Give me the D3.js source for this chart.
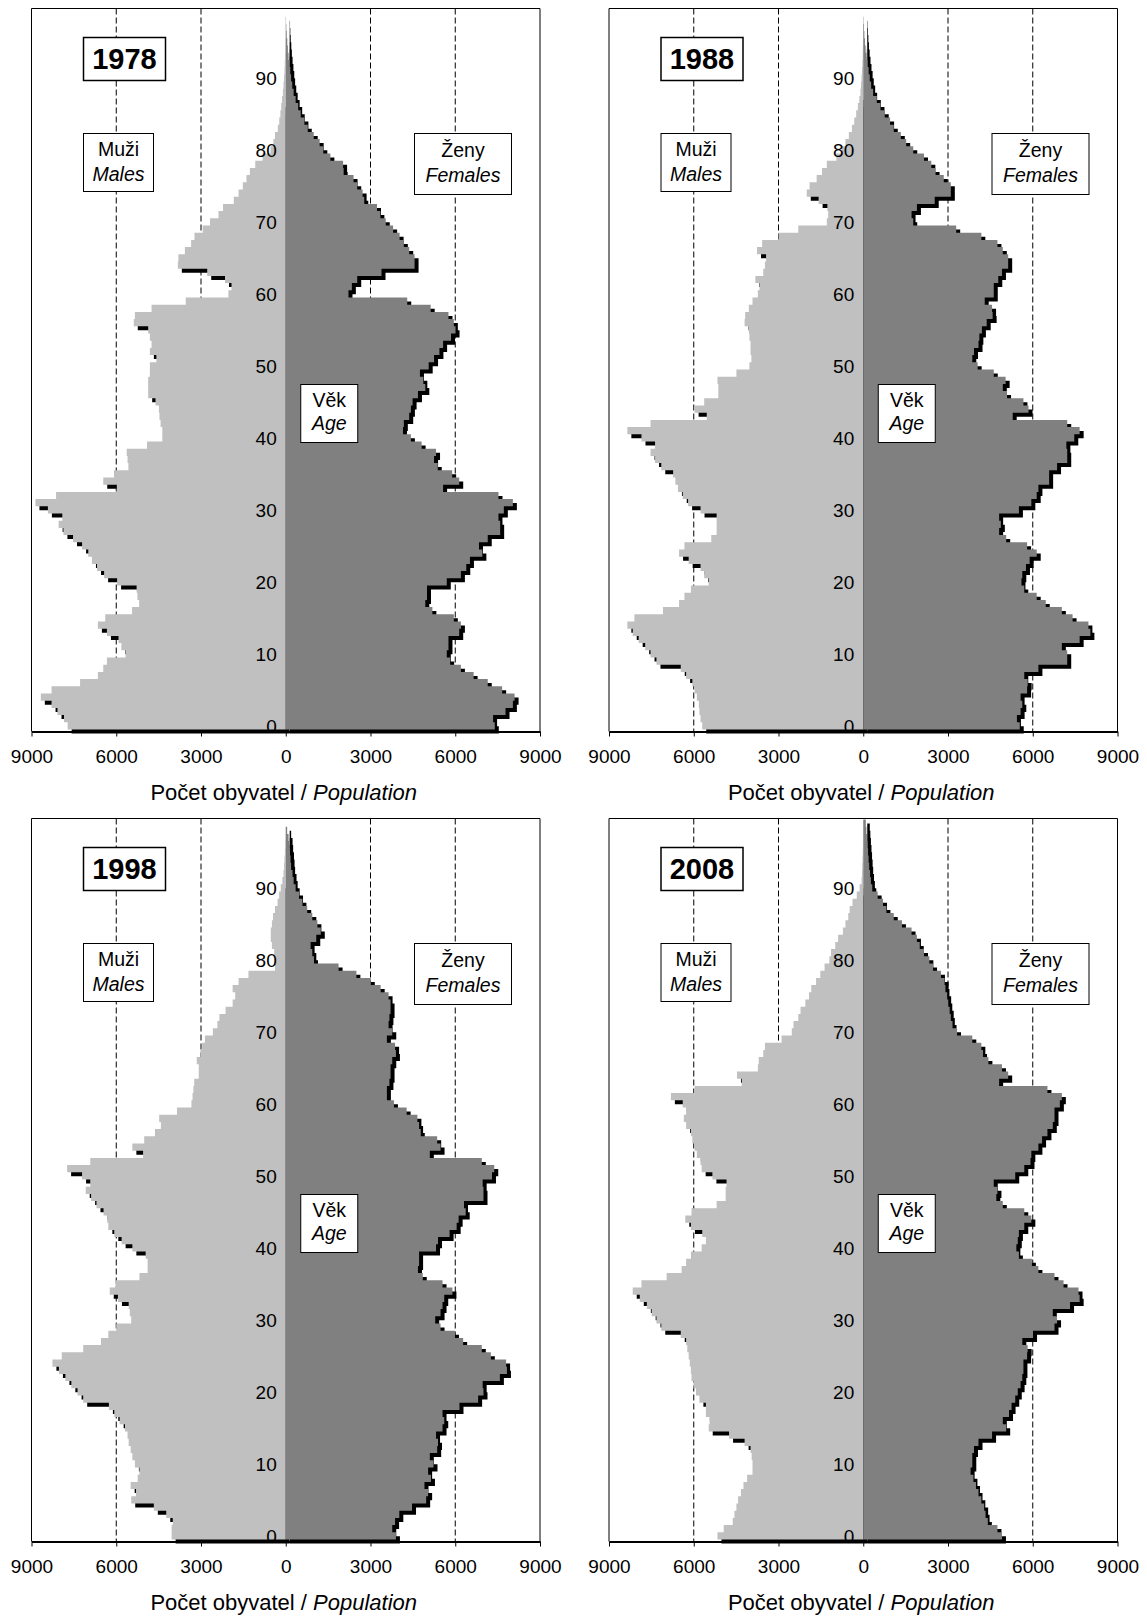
<!DOCTYPE html>
<html>
<head>
<meta charset="utf-8">
<script src="https://cdn.jsdelivr.net/npm/d3@7"></script>
<style>
  body { margin: 0; background: #fff; }
  text { font-family: "Liberation Sans", Arial, sans-serif; fill: #000; }
</style>
</head>
<body>
<script>
// Population by single year of age (0..99), males and females
const ages = d3.range(100);
const years = ["1978", "1988", "1998", "2008"];
const xTicks = [-9000, -6000, -3000, 0, 3000, 6000, 9000];
const gridValues = [-6000, -3000, 3000, 6000];
const ageTicks = d3.range(0, 100, 10);

const males1978 = [
  7720, 7850, 8080, 8290, 8670, 8290, 7280, 6650, 6460, 6330,
  5670, 5820, 5920, 6330, 6650, 6390, 5440, 5190, 5250, 5280,
  5970, 6430, 6680, 6860, 6990, 7210, 7530, 7870, 8040, 7910,
  8420, 8860, 8130, 5980, 6460, 6080, 5570, 5600, 5630, 4910,
  4370, 4370, 4430, 4470, 4490, 4610, 4870, 4870, 4870, 4810,
  4810, 4580, 4810, 4750, 4810, 4870, 5380, 5340, 4750, 3540,
  2030, 1920, 2150, 2780, 3820, 3800, 3570, 3350, 3230, 2940,
  2680, 2380, 2220, 1840, 1670, 1520, 1390, 1270, 1080, 820,
  540, 440, 380, 280, 230, 190, 160, 130, 100, 80,
  60, 45, 35, 25, 18, 12, 8, 5, 0, 0
];
const females1978 = [
  7400, 7340, 7780, 8040, 8100, 7660, 7150, 6650, 6200, 5820,
  5700, 5760, 5760, 6140, 6200, 5950, 5190, 4940, 5000, 5000,
  5700, 6200, 6390, 6520, 6960, 6840, 7150, 7590, 7590, 7530,
  7720, 8040, 7530, 5570, 6140, 5890, 5380, 5250, 5320, 4810,
  4430, 4150, 4180, 4370, 4430, 4490, 4680, 4940, 4870, 4750,
  5060, 5250, 5440, 5570, 5850, 6010, 5950, 5760, 5130, 4300,
  2220, 2340, 2530, 3390, 4560, 4560, 4370, 4180, 4030, 3800,
  3540, 3350, 3230, 2780, 2720, 2530, 2400, 2050, 2030, 1580,
  1330, 1200, 990, 780, 660, 530, 440, 350, 280, 230,
  190, 160, 130, 100, 75, 55, 35, 20, 10, 0
];
const males1988 = [
  5700, 5760, 5800, 5820, 5890, 5970, 6050, 6270, 6460, 7320,
  7530, 7720, 7950, 8160, 8350, 8100, 7090, 6520, 6330, 6100,
  5470, 5630, 5760, 6180, 6520, 6330, 5380, 5190, 5190, 5190,
  5760, 6200, 6390, 6560, 6650, 6730, 7150, 7370, 7530, 7370,
  7850, 8350, 7530, 5540, 5970, 5630, 5130, 5130, 5160, 4490,
  4030, 3960, 3990, 3990, 4030, 4050, 4200, 4180, 4050, 3920,
  3730, 3670, 3820, 3540, 3480, 3440, 3760, 3580, 3000, 2300,
  1290, 1240, 1270, 1580, 2000, 1900, 1650, 1460, 1290, 950,
  760, 630, 510, 400, 320, 250, 190, 140, 100, 80,
  60, 45, 30, 20, 15, 10, 6, 4, 0, 0
];
const females1988 = [
  5540, 5440, 5570, 5630, 5570, 5800, 5820, 5700, 6200, 7220,
  7220, 7030, 7660, 8040, 7970, 7410, 7030, 6460, 6140, 5700,
  5600, 5630, 5760, 5890, 6140, 5800, 5060, 4810, 4870, 4810,
  5510, 5950, 6140, 6200, 6580, 6580, 6860, 7220, 7220, 7190,
  7470, 7660, 7220, 5290, 5850, 5670, 5090, 4940, 5040, 4620,
  4050, 3860, 3920, 4080, 4110, 4200, 4370, 4580, 4560, 4300,
  4620, 4620, 4780, 4910, 5130, 5130, 4940, 4750, 4180, 3290,
  1770, 1710, 1900, 2530, 3100, 3100, 2850, 2560, 2410, 2150,
  1770, 1520, 1330, 1080, 950, 760, 610, 480, 350, 280,
  230, 190, 150, 115, 85, 60, 40, 25, 12, 0
];
const males1998 = [
  4040, 4040, 4000, 4230, 4670, 5470, 5300, 5490, 5240, 5180,
  5340, 5430, 5490, 5560, 5600, 5690, 5880, 6070, 6260, 7170,
  7370, 7590, 7800, 8030, 8260, 7930, 7170, 6540, 6280, 6000,
  5470, 5520, 5560, 5940, 6230, 6030, 5180, 4890, 4890, 4960,
  5430, 5810, 6070, 6280, 6320, 6450, 6700, 6890, 7080, 6920,
  7210, 7740, 6920, 5050, 5430, 5010, 4630, 4420, 4480, 3850,
  3340, 3300, 3270, 3240, 3080, 3080, 3150, 3020, 2960, 2860,
  2580, 2420, 2350, 2130, 1880, 1790, 1880, 1670, 1320, 380,
  380, 410, 490, 530, 530, 490, 450, 380, 290, 235,
  176, 120, 80, 60, 45, 30, 20, 12, 5, 0
];
const females1998 = [
  3900, 3770, 3870, 4020, 4470, 4970, 5040, 4910, 5140, 5040,
  5230, 5100, 5360, 5390, 5320, 5550, 5610, 5550, 6150, 6810,
  7000, 6970, 7580, 7830, 7800, 7260, 6940, 6280, 5990, 5480,
  5290, 5480, 5550, 5610, 5900, 5550, 4850, 4680, 4720, 4720,
  5320, 5390, 5800, 6050, 6120, 6370, 6310, 7000, 7000, 6970,
  7300, 7380, 6940, 5100, 5480, 5360, 4780, 4720, 4660, 4280,
  3830, 3580, 3580, 3670, 3710, 3710, 3770, 3900, 3870, 3580,
  3770, 3640, 3670, 3710, 3710, 3640, 3360, 3010, 2500, 1870,
  1000, 940, 880, 1080, 1240, 1120, 940, 760, 590, 470,
  350, 280, 240, 190, 170, 150, 120, 100, 50, 0
];
const males2008 = [
  5160, 4940, 4620, 4560, 4490, 4430, 4330, 4240, 4110, 3920,
  3920, 3950, 3990, 4200, 4750, 5470, 5440, 5570, 5570, 5800,
  5920, 6010, 6080, 6100, 6140, 6180, 6230, 6270, 6460, 7150,
  7320, 7490, 7660, 7910, 8160, 7850, 6960, 6430, 6270, 6100,
  5720, 5570, 5700, 6100, 6300, 6080, 5190, 4870, 4870, 4840,
  5340, 5720, 5760, 5890, 5970, 6050, 6100, 6270, 6350, 6270,
  6390, 6810, 5970, 4300, 4470, 3730, 3700, 3540, 3480, 2890,
  2530, 2470, 2300, 2220, 2050, 1920, 1840, 1670, 1520, 1370,
  1200, 1140, 990, 890, 720, 630, 530, 480, 380, 230,
  130, 60, 45, 35, 25, 15, 10, 6, 3, 0
];
const females2008 = [
  4910, 4750, 4410, 4330, 4280, 4180, 4080, 3990, 3900, 3800,
  3860, 3860, 3920, 4080, 4560, 5060, 4940, 5160, 5250, 5380,
  5470, 5570, 5630, 5670, 5670, 5800, 5820, 5630, 6010, 6770,
  6860, 6710, 7320, 7660, 7620, 7090, 6770, 6200, 5970, 5510,
  5420, 5470, 5510, 5700, 5950, 5700, 4940, 4710, 4750, 4620,
  5380, 5700, 5920, 5950, 6200, 6330, 6520, 6710, 6770, 6770,
  6960, 7030, 6520, 4810, 5130, 4910, 4430, 4240, 4180, 3860,
  3320, 3160, 3100, 3060, 3010, 2970, 2910, 2880, 2750, 2470,
  2340, 2150, 2000, 1900, 1710, 1370, 1080, 820, 700, 510,
  320, 270, 240, 210, 190, 170, 150, 130, 110, 90
];

const maleSeries = [males1978, males1988, males1998, males2008];
const femaleSeries = [females1978, females1988, females1998, females2008];

// panel frames (plot areas)
const panels = [
  { x0: 31.5, x1: 540, top: 8.5 },
  { x0: 609, x1: 1117.5, top: 8.5 },
  { x0: 31.5, x1: 540, top: 818.5 },
  { x0: 609, x1: 1117.5, top: 818.5 }
];

const svg = d3.select("body").append("svg")
  .attr("width", 1147)
  .attr("height", 1619);
const defs = svg.append("defs");

function box(g, x, y, w, h, sw) {
  g.append("rect")
    .attr("x", x).attr("y", y)
    .attr("width", w).attr("height", h)
    .attr("fill", "#fff")
    .attr("stroke", "#000")
    .attr("stroke-width", sw);
}

function drawPanel(p, year, male, female, idx) {
  const g = svg.append("g");
  const x = d3.scaleLinear().domain([-9000, 9000]).range([p.x0, p.x1]);
  const y = d3.scaleBand().domain(ages).range([p.top + 721, p.top + 1]);
  const bottom = p.top + 723;
  const cx = x(0);
  const bw = y.bandwidth();
  const dx = 4, dy = 4;

  // step outline of one half of the pyramid, age 0 at the bottom
  const outline = (vals, sign) => {
    let d = `M${cx},${y(0) + bw}`;
    ages.forEach((a) => {
      d += `H${x(sign * vals[a])}V${y(a)}`;
    });
    return d + `H${cx}Z`;
  };

  // dashed gridlines
  g.append("g").selectAll("line")
    .data(gridValues)
    .join("line")
    .attr("x1", (d) => x(d)).attr("x2", (d) => x(d))
    .attr("y1", p.top).attr("y2", bottom)
    .attr("stroke", "#000")
    .attr("stroke-width", 1)
    .attr("stroke-dasharray", "6,3");

  // shadows (male shadow clipped at the centre line)
  defs.append("clipPath").attr("id", "mclip" + idx)
    .append("rect")
    .attr("x", p.x0).attr("y", p.top)
    .attr("width", cx - p.x0).attr("height", bottom - p.top + 6);

  g.append("path")
    .attr("d", outline(male, -1))
    .attr("transform", `translate(${dx},${dy})`)
    .attr("clip-path", `url(#mclip${idx})`)
    .attr("fill", "#000");
  g.append("path")
    .attr("d", outline(female, 1))
    .attr("transform", `translate(${dx},${dy})`)
    .attr("fill", "#000");

  // bars
  g.append("path").attr("d", outline(male, -1)).attr("fill", "#c0c0c0");
  g.append("path").attr("d", outline(female, 1)).attr("fill", "#808080");

  // plot frame
  g.append("path")
    .attr("d", `M${p.x0},${bottom}V${p.top}H${p.x1}V${bottom}`)
    .attr("fill", "none")
    .attr("stroke", "#000")
    .attr("stroke-width", 1);

  // population axis
  const axis = g.append("g")
    .attr("transform", `translate(0,${bottom})`)
    .call(
      d3.axisBottom(x)
        .tickValues(xTicks)
        .tickFormat((d) => Math.abs(d))
        .tickSize(5)
        .tickSizeOuter(0)
        .tickPadding(13)
    );
  axis.select(".domain").attr("stroke-width", 2);
  axis.selectAll("text")
    .attr("font-size", 19)
    .attr("font-family", '"Liberation Sans", Arial, sans-serif');

  // age labels
  g.append("g").selectAll("text")
    .data(ageTicks)
    .join("text")
    .attr("x", cx - 9)
    .attr("y", (d) => y(d) + bw / 2)
    .attr("dy", "0.35em")
    .attr("text-anchor", "end")
    .attr("font-size", 19)
    .text((d) => d);

  // year box
  box(g, p.x0 + 52, p.top + 29, 82, 43, 1.5);
  g.append("text")
    .attr("x", p.x0 + 93).attr("y", p.top + 60)
    .attr("text-anchor", "middle")
    .attr("font-size", 29)
    .attr("font-weight", "bold")
    .text(year);

  // males label
  box(g, p.x0 + 52, p.top + 125, 70, 58, 1);
  g.append("text")
    .attr("x", p.x0 + 87).attr("y", p.top + 147)
    .attr("text-anchor", "middle").attr("font-size", 19.5)
    .text("Muži");
  g.append("text")
    .attr("x", p.x0 + 87).attr("y", p.top + 172)
    .attr("text-anchor", "middle").attr("font-size", 19.5)
    .attr("font-style", "italic")
    .text("Males");

  // females label
  box(g, p.x0 + 383, p.top + 125, 97, 61, 1);
  g.append("text")
    .attr("x", p.x0 + 431.5).attr("y", p.top + 148.5)
    .attr("text-anchor", "middle").attr("font-size", 19.5)
    .text("Ženy");
  g.append("text")
    .attr("x", p.x0 + 431.5).attr("y", p.top + 173.5)
    .attr("text-anchor", "middle").attr("font-size", 19.5)
    .attr("font-style", "italic")
    .text("Females");

  // age label box
  box(g, cx + 15, p.top + 376, 57, 58, 1);
  g.append("text")
    .attr("x", cx + 43.5).attr("y", p.top + 398)
    .attr("text-anchor", "middle").attr("font-size", 19.5)
    .text("Věk");
  g.append("text")
    .attr("x", cx + 43.5).attr("y", p.top + 421)
    .attr("text-anchor", "middle").attr("font-size", 19.5)
    .attr("font-style", "italic")
    .text("Age");

  // axis title
  const title = g.append("text")
    .attr("x", cx - 2).attr("y", p.top + 791)
    .attr("text-anchor", "middle")
    .attr("font-size", 22);
  title.append("tspan").text("Počet obyvatel / ");
  title.append("tspan").attr("font-style", "italic").text("Population");
}

years.forEach((yr, i) => drawPanel(panels[i], yr, maleSeries[i], femaleSeries[i], i));
</script>
</body>
</html>
